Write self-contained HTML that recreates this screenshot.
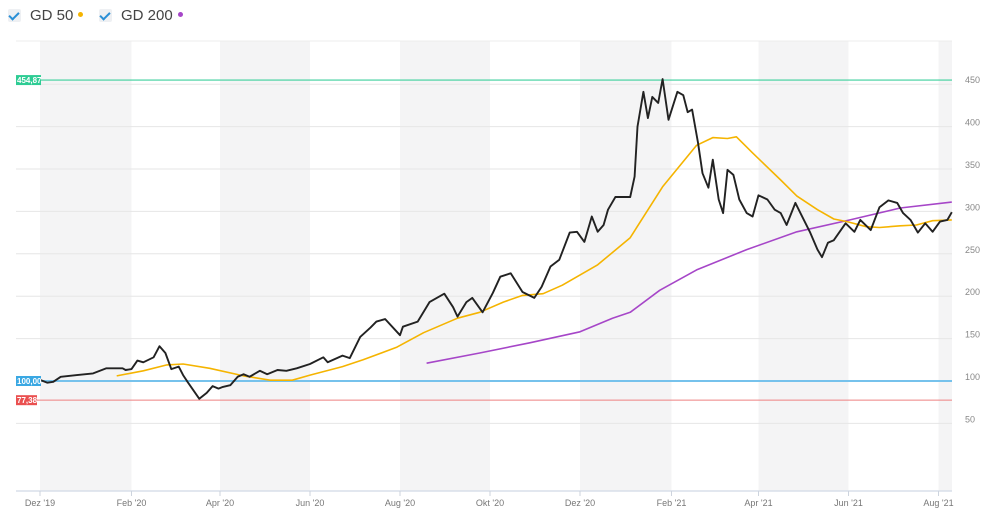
<!DOCTYPE html>
<html><head><meta charset="utf-8"><style>
body{margin:0;width:1000px;height:519px;background:#fff;overflow:hidden;font-family:"Liberation Sans",sans-serif}
.leg{position:absolute;top:7px;display:flex;align-items:center;font-size:15px;color:#444}
.cb{width:13px;height:13px;background:#eef0f3;border-radius:2px;position:relative;margin-right:9px}
.cb:after{content:"";position:absolute;left:3px;top:1px;width:4px;height:8px;border:solid #2a8fd6;border-width:0 2px 2px 0;transform:rotate(45deg)}
.dot{width:5px;height:5px;border-radius:50%;margin-left:5px;margin-top:-3px}
</style></head><body>
<div class="leg" style="left:8px"><div class="cb"></div>GD 50<div class="dot" style="background:#f5b400"></div></div>
<div class="leg" style="left:99px"><div class="cb"></div>GD 200<div class="dot" style="background:#a646c8"></div></div>
<svg id="c" width="1000" height="519" style="position:absolute;left:0;top:0"></svg>
<script>
const monthLabels=["Dez '19","Feb '20","Apr '20","Jun '20","Aug '20","Okt '20","Dez '20","Feb '21","Apr '21","Jun '21","Aug '21"];
const monthDays=[0,62,122,183,244,305,366,428,487,548,609];
const yTicks=[50,100,150,200,250,300,350,400,450];
const priceDays=[-16,-1,5,9,14,25,36,45,56,58,62,66,70,77,81,85,89,94,97,100,104,108,113,117,121,124,129,134,138,142,149,154,161,167,174,183,192,195,205,210,217,224,228,234,244,246,256,264,274,280,283,289,293,300,307,312,319,327,335,340,346,352,359,364,369,374,378,382,385,390,400,403,405,409,412,415,419,422,426,432,436,439,442,446,449,453,456,460,463,466,470,474,479,483,487,493,498,502,506,512,516,522,527,530,534,538,546,552,556,563,569,575,581,585,590,595,600,605,610,615,618];
const priceVals=[100,102,98,99,105,107,109,115,115,113,114,124,122,128,141,133,114,117,107,99,89,79,86,94,91,93,95,105,108,105,112,108,113,112,115,120,128,122,130,127,152,163,170,173,154,164,170,193,203,187,176,193,198,181,204,223,227,205,198,211,235,243,275,276,264,294,276,284,302,317,317,341,400,441,410,435,428,456,408,441,437,417,420,381,345,328,361,314,298,349,343,314,298,294,319,314,302,298,284,310,296,275,255,246,263,266,286,276,290,278,305,313,310,298,290,275,286,276,288,290,299];
const gd50Days=[52,70,86,97,115,138,156,171,183,205,219,242,260,283,298,314,327,341,354,378,400,422,445,456,466,472,483,502,513,527,538,547,560,569,583,594,605,618];
const gd50Vals=[106,112,119,120,115,106,101,101,107,117,125,140,157,174,181,193,201,203,213,237,269,329,378,387,386,388,369,337,318,302,291,288,282,281,283,284,289,290];
const gd200Days=[262,298,332,366,388,400,420,445,479,513,549,583,618];
const gd200Vals=[121,133,145,158,174,181,207,231,255,276,290,304,311];
const refVals=[454.87,100,77.38];
const refLabels=["454,87","100,00","77,38"];

const L=16,R=952,T=41,B=491;
const X=d=>40+d*1.4754;
const Y=v=>381-(v-100)*0.848;
const svg=document.getElementById('c');
const NS='http://www.w3.org/2000/svg';
function mk(t,a,p){const e=document.createElementNS(NS,t);for(const k in a)e.setAttribute(k,a[k]);(p||svg).appendChild(e);return e;}
for(let i=0;i<monthDays.length;i+=2){
 const x0=X(monthDays[i]),x1=i+1<monthDays.length?X(monthDays[i+1]):R;
 const b=mk('rect',{x:x0,y:T,width:Math.min(x1,R)-x0,height:B-T,fill:'#f4f4f5'});
 
 
}
mk('line',{x1:L,x2:R,y1:T,y2:T,stroke:'#ececec'});
yTicks.forEach(v=>{
 const g=mk('line',{x1:L,x2:R,y1:Y(v),y2:Y(v),stroke:'#e6e6e6'});
 
 
 const t=mk('text',{x:965,y:Y(v)-1,'font-size':9,fill:'#888','font-family':'Liberation Sans Narrow,Liberation Sans,sans-serif'});
 t.textContent=v;
 
 
});
mk('line',{x1:L,x2:R,y1:B,y2:B,stroke:'#d8dfea','stroke-width':1.5});
monthDays.forEach((d,i)=>{
 mk('line',{x1:X(d),x2:X(d),y1:B,y2:B+5,stroke:'#ccd3de'});
 const t=mk('text',{x:X(d),y:506,'font-size':9,fill:'#777','text-anchor':'middle','font-family':'Liberation Sans Narrow,Liberation Sans,sans-serif'});
 t.textContent=monthLabels[i];
 
 
});
const refCol=['#3ccf9c','#76c2ec','#ee8080'],badgeCol=['#2ecc94','#3aa8e3','#ea5050'],refW=[1.2,2,1];
refVals.forEach((v,i)=>{
 const l=mk('line',{x1:L,x2:R,y1:Y(v),y2:Y(v),stroke:refCol[i],'stroke-width':refW[i]});
 
 
});
function line(ds,vs,col,w,name){
 const p=mk('path',{d:ds.map((d,i)=>(i?'L':'M')+X(d).toFixed(1)+','+Y(vs[i]).toFixed(1)).join(''),fill:'none',stroke:col,'stroke-width':w,'stroke-linejoin':'round'});
 
 
}
line(gd200Days,gd200Vals,'#a646c8',1.6,'gd200-line');
line(gd50Days,gd50Vals,'#f5b400',1.6,'gd50-line');
line(priceDays,priceVals,'#222',1.9,'price-line');
refVals.forEach((v,i)=>{
 const r=mk('rect',{x:L,y:Y(v)-5,width:refLabels[i].length*4+1,height:10,fill:badgeCol[i]});
 
 
 const t=mk('text',{x:L+1,y:Y(v)+3,'font-size':8,'font-weight':'bold',fill:'#fff','font-family':'Liberation Sans Narrow,Liberation Sans,sans-serif'});
 t.textContent=refLabels[i];
 
 
});
</script>
</body></html>
